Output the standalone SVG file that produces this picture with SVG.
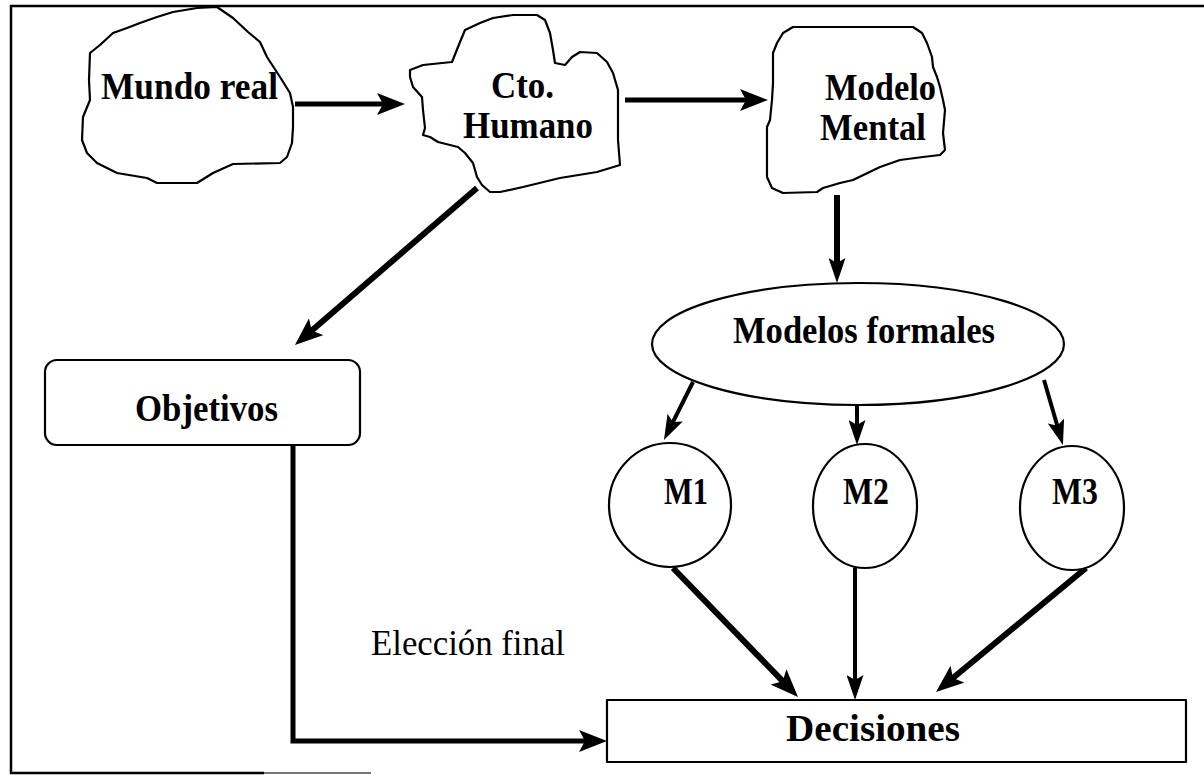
<svg xmlns="http://www.w3.org/2000/svg" width="1204" height="775" viewBox="0 0 1204 775">
<style>
.bg{fill:#fff}
.frame{fill:none;stroke:#000;stroke-width:2.5}
.shape{fill:#fff;stroke:#000;stroke-width:2.2;stroke-linejoin:round}
.lbl{font-family:"Liberation Serif","Times New Roman",serif;font-weight:bold;font-size:37px;fill:#000}
.plain{font-family:"Liberation Serif","Times New Roman",serif;font-size:35px;fill:#000}
.c{stroke:#000;fill:none}
.w6{stroke-width:6}
.w5{stroke-width:5}
.w4{stroke-width:4}
</style>
<defs>
<marker id="ah" markerUnits="userSpaceOnUse" viewBox="0 0 28 22" refX="8" refY="11" markerWidth="28" markerHeight="22" orient="auto">
<path d="M0,0 L28,11 L0,22 L6,11 Z" fill="#000"/>
</marker>
<marker id="am" markerUnits="userSpaceOnUse" viewBox="0 0 25 17" refX="7" refY="8.5" markerWidth="25" markerHeight="17" orient="auto">
<path d="M0,0 L25,8.5 L0,17 L5,8.5 Z" fill="#000"/>
</marker>
</defs>
<rect class="bg" x="0" y="0" width="1204" height="775"/>
<g id="frame">
<path class="frame" d="M1204,6 L11,6 L11,773 L264,773"/>
<path d="M264,773 L371,773" stroke="#777" stroke-width="2" fill="none"/>
</g>
<g id="connectors">
<line class="c w5" x1="295" y1="104" x2="385" y2="104" marker-end="url(#ah)"/>
<line class="c w5" x1="625" y1="100" x2="748" y2="100" marker-end="url(#ah)"/>
<line class="c w6" x1="477" y1="188" x2="310.1" y2="331.9" marker-end="url(#ah)"/>
<line class="c w6" x1="837" y1="195" x2="837" y2="265" marker-end="url(#am)"/>
<line class="c w4" x1="693" y1="382" x2="672" y2="423.9" marker-end="url(#am)"/>
<line class="c w4" x1="857" y1="402" x2="857" y2="427" marker-end="url(#am)"/>
<line class="c w4" x1="1044" y1="380" x2="1057.9" y2="427.7" marker-end="url(#am)"/>
<line class="c w6" x1="673" y1="568" x2="784.1" y2="682.6" marker-end="url(#ah)"/>
<line class="c w4" x1="855" y1="568" x2="855" y2="682" marker-end="url(#am)"/>
<line class="c w6" x1="1086" y1="568" x2="951.4" y2="679.3" marker-end="url(#ah)"/>
<path class="c w5" d="M293,446 L293,741 L587,741" marker-end="url(#ah)"/>
</g>
<g id="mundo-real">
<path class="shape" d="M197,8 L217,7 L233,18 L248,32 L260,42 L267,57 L280,77 L290,93 L293,107 L293,127 L292,143 L287,157 L280,163 L233,164 L213,173 L197,183 L157,183 L147,178 L117,173 L97,163 L87,153 L82,140 L83,117 L90,100 L89,80 L90,53 L100,45 L113,33 L127,28 L140,23 L157,17 L173,12 Z"/>
<text class="lbl" x="101" y="99" textLength="177" lengthAdjust="spacingAndGlyphs">Mundo real</text>
</g>
<g id="cto-humano">
<path class="shape" d="M410,70 L423,65 L452,62 L460,42 L465,30 L480,23 L493,18 L513,15 L537,15 L545,20 L550,33 L553,50 L555,63 L565,65 L572,57 L580,52 L597,53 L607,62 L613,73 L618,90 L618,117 L618,140 L620,165 L597,172 L560,178 L523,187 L500,192 L490,192 L482,185 L477,177 L473,163 L465,153 L458,147 L438,142 L430,137 L423,135 L425,128 L423,110 L422,97 L413,87 L410,77 Z"/>
<text class="lbl" x="491" y="98" textLength="63" lengthAdjust="spacingAndGlyphs">Cto.</text>
<text class="lbl" x="463" y="138" textLength="130" lengthAdjust="spacingAndGlyphs">Humano</text>
</g>
<g id="modelo-mental">
<path class="shape" d="M783,33 L793,27 L913,27 L922,33 L927,43 L932,57 L933,67 L937,77 L940,87 L943,100 L945,110 L943,133 L945,150 L940,155 L923,157 L900,160 L880,167 L853,180 L840,183 L823,188 L817,192 L783,193 L772,188 L767,177 L767,150 L767,127 L770,120 L772,100 L773,83 L773,53 L777,43 Z"/>
<text class="lbl" x="825" y="100" textLength="111" lengthAdjust="spacingAndGlyphs">Modelo</text>
<text class="lbl" x="820" y="140" textLength="106" lengthAdjust="spacingAndGlyphs">Mental</text>
</g>
<g id="objetivos">
<rect class="shape" x="45" y="360" width="315" height="85" rx="12"/>
<text class="lbl" x="135" y="421" textLength="143" lengthAdjust="spacingAndGlyphs">Objetivos</text>
</g>
<g id="modelos-formales">
<ellipse class="shape" cx="858" cy="344" rx="206" ry="61"/>
<text class="lbl" x="733" y="343" textLength="262" lengthAdjust="spacingAndGlyphs">Modelos formales</text>
</g>
<g id="m1">
<ellipse class="shape" cx="670" cy="505" rx="61" ry="62"/>
<text class="lbl" x="664" y="504" textLength="44" lengthAdjust="spacingAndGlyphs">M1</text>
</g>
<g id="m2">
<ellipse class="shape" cx="865" cy="506" rx="52" ry="62"/>
<text class="lbl" x="843" y="504" textLength="46" lengthAdjust="spacingAndGlyphs">M2</text>
</g>
<g id="m3">
<ellipse class="shape" cx="1072" cy="508" rx="52" ry="62"/>
<text class="lbl" x="1052" y="504" textLength="46" lengthAdjust="spacingAndGlyphs">M3</text>
</g>
<g id="eleccion-final">
<text class="plain" x="371" y="655" textLength="194" lengthAdjust="spacingAndGlyphs">Elección final</text>
</g>
<g id="decisiones">
<rect class="shape" x="607" y="700" width="579" height="62"/>
<text class="lbl" x="786" y="741" textLength="174" lengthAdjust="spacingAndGlyphs">Decisiones</text>
</g>
</svg>
